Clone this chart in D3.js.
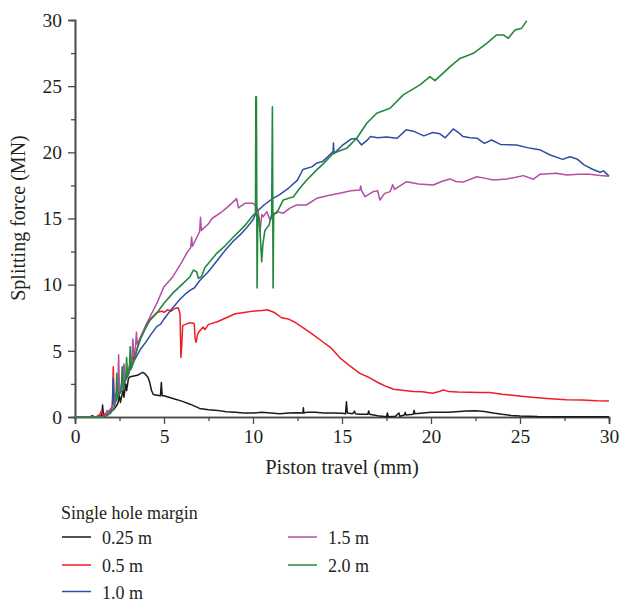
<!DOCTYPE html>
<html>
<head>
<meta charset="utf-8">
<script src="https://cdn.jsdelivr.net/npm/d3@7"></script>
<style>
  html, body { margin: 0; padding: 0; background: #fff; }
  svg { display: block; }
  text { font-family: "Liberation Serif", "DejaVu Serif", serif; fill: #231f20; }
</style>
</head>
<body>
<svg id="chart" width="621" height="603"></svg>
<script>
// ---------- data (x: piston travel mm, y: splitting force MN) ----------
const seriesNames = ["0.25 m", "0.5 m", "1.0 m", "1.5 m", "2.0 m"];
const seriesColors = ["#1a1a1a", "#ee1c25", "#2d4ea3", "#b44ea6", "#23883c"];
const xTicks = [0, 5, 10, 15, 20, 25, 30];
const yTicks = [0, 5, 10, 15, 20, 25, 30];
const xMinorTicks = [2.5, 7.5, 12.5, 17.5, 22.5, 27.5];
const yMinorTicks = [2.5, 7.5, 12.5, 17.5, 22.5, 27.5];

const margin025 = [
  [0,0],[0.8,0],[1.0,0.1],[1.05,0],[1.3,0.05],[1.5,0.1],[1.55,0.9],[1.6,0.1],[1.8,0.15],[2.0,0.4],[2.2,0.6],
  [2.4,1.0],[2.5,1.6],[2.55,1.1],[2.7,2.0],[2.75,1.5],[2.85,2.5],[2.9,2.0],[3.0,2.9],[3.1,3.05],[3.3,3.1],
  [3.5,3.15],[3.7,3.3],[3.8,3.38],[3.9,3.3],[4.0,3.15],[4.1,3.0],[4.2,2.6],[4.3,2.0],[4.4,1.7],[4.6,1.65],
  [4.8,1.6],[4.85,2.6],[4.9,1.6],[5.0,1.6],[5.5,1.4],[6.0,1.2],[6.5,0.95],[7.0,0.65],[7.5,0.55],[8.0,0.5],
  [8.5,0.4],[9.0,0.35],[9.5,0.3],[10,0.3],[10.5,0.35],[11,0.3],[11.5,0.25],[12,0.3],[12.5,0.32],[12.8,0.3],
  [12.83,0.7],[12.86,0.3],[13,0.35],[13.5,0.35],[14,0.3],[14.5,0.3],[15.0,0.28],[15.2,0.25],[15.25,1.15],
  [15.3,0.3],[15.6,0.25],[15.7,0.45],[15.75,0.25],[16.0,0.2],[16.45,0.2],[16.5,0.45],[16.55,0.2],[17,0.1],
  [17.5,0.02],[17.55,0.3],[17.6,0.02],[18,0.05],[18.2,0.3],[18.25,0.05],[18.5,0.15],[18.55,0.35],[18.6,0.15],
  [19,0.2],[19.05,0.5],[19.1,0.25],[20,0.35],[21,0.35],[22,0.45],[22.5,0.47],[23,0.42],[23.5,0.3],[24,0.2],
  [24.5,0.12],[25,0.08],[26,0.03],[27,0.02],[30,0.02]
];

const margin05 = [
  [0,0],[1.2,0],[1.4,0.2],[1.5,0.5],[1.55,0.2],[1.8,0.3],[2.0,0.6],[2.1,0.8],[2.15,3.8],[2.2,1.0],[2.4,1.5],
  [2.5,2.2],[2.55,1.8],[2.7,2.6],[2.75,3.9],[2.8,2.7],[3.0,3.4],[3.2,4.2],[3.25,4.9],[3.3,4.3],[3.5,5.2],
  [3.7,6.0],[4.0,6.9],[4.3,7.5],[4.6,7.9],[4.9,8.0],[5.0,7.9],[5.2,8.1],[5.4,8.0],[5.6,8.2],[5.8,8.25],
  [5.9,7.8],[5.95,4.5],[6.0,5.5],[6.05,6.9],[6.2,7.0],[6.4,7.1],[6.6,7.1],[6.7,7.05],[6.75,5.9],[6.8,5.65],
  [6.9,6.3],[7.0,6.5],[7.2,6.8],[7.3,6.6],[7.5,7.0],[8.0,7.2],[8.5,7.5],[9.0,7.8],[9.5,7.9],[10.0,8.0],
  [10.5,8.05],[10.8,8.1],[11.2,7.9],[11.6,7.5],[12.0,7.4],[12.3,7.2],[12.6,6.95],[13.2,6.4],[13.8,5.8],
  [14.4,5.2],[14.9,4.45],[15.5,3.8],[16.0,3.3],[16.5,3.0],[17.1,2.55],[17.5,2.3],[17.9,2.1],[18.5,2.0],
  [19.0,1.92],[19.5,1.9],[20.1,1.8],[20.5,1.95],[20.7,2.05],[21.0,1.92],[21.5,1.88],[22.7,1.85],[23.3,1.85],
  [24,1.72],[25.2,1.55],[26.5,1.4],[27.6,1.3],[28.5,1.28],[29.3,1.22],[30,1.2]
];

const margin10 = [
  [0,0],[1.5,0],[1.8,0.2],[2.0,0.4],[2.1,0.8],[2.15,2.9],[2.2,1.0],[2.4,1.5],[2.5,2.5],[2.55,1.9],[2.7,2.0],
  [2.8,2.7],[3.0,3.3],[3.3,4.2],[3.65,5.06],[4.0,5.7],[4.3,6.3],[4.6,6.85],[4.8,7.0],[5.0,7.4],[5.4,8.1],
  [5.9,8.9],[6.2,9.3],[6.5,9.6],[6.7,9.75],[7.0,10.3],[7.5,11.0],[8.0,11.85],[8.5,12.7],[8.9,13.3],
  [9.3,13.8],[9.7,14.4],[10.0,14.9],[10.2,15.5],[10.6,16.0],[11.1,16.5],[11.5,16.8],[12.0,17.3],[12.5,17.9],
  [12.8,18.7],[13.3,18.9],[13.6,19.2],[13.9,19.3],[14.3,19.8],[14.5,20.05],[14.52,20.7],[14.55,19.9],
  [15.0,20.5],[15.5,21.0],[15.8,21.05],[16.1,20.56],[16.4,20.9],[16.6,21.2],[17.0,21.1],[17.5,21.15],
  [18.1,21.06],[18.6,21.7],[19.0,21.6],[19.6,21.24],[20.1,21.5],[20.5,21.4],[20.8,21.1],[21.25,21.77],
  [21.6,21.44],[21.8,21.19],[22.2,21.1],[22.6,21.06],[23.0,20.68],[23.4,20.93],[23.9,20.6],[24.8,20.56],
  [25.6,20.3],[26.1,20.2],[26.7,19.8],[27.4,19.47],[27.8,19.67],[28.2,19.5],[28.6,19.05],[29.1,18.7],
  [29.5,18.5],[29.7,18.6],[30,18.2]
];

const margin15 = [
  [0,0],[1.5,0],[1.7,0.1],[1.8,0.5],[1.85,0.2],[2.0,0.6],[2.2,1.0],[2.3,1.8],[2.4,1.5],[2.45,4.7],[2.5,1.9],
  [2.7,2.6],[2.75,4.0],[2.8,2.8],[3.0,3.6],[3.2,4.4],[3.25,5.9],[3.3,4.6],[3.4,5.3],[3.45,6.4],[3.5,5.5],
  [3.7,6.1],[4.0,7.0],[4.3,7.8],[4.6,8.6],[5.0,9.85],[5.5,10.6],[6.0,11.7],[6.27,12.37],[6.5,12.8],
  [6.55,13.6],[6.6,12.9],[7.0,14.0],[7.05,15.1],[7.1,14.1],[7.5,14.6],[7.7,15.0],[8.15,15.4],[8.6,15.9],
  [9.08,16.5],[9.18,15.8],[9.55,16.15],[10.0,16.15],[10.2,15.9],[10.3,15.5],[10.39,14.0],[10.5,15.3],
  [10.58,15.14],[10.77,15.52],[10.96,14.89],[11.33,15.52],[11.7,15.4],[12.1,15.8],[12.45,16.02],[13.0,16.02],
  [13.58,16.53],[14.3,16.75],[15.0,16.95],[15.5,17.1],[16.0,17.15],[16.05,17.45],[16.1,17.1],[16.29,16.65],
  [16.76,17.03],[17.0,17.1],[17.13,16.4],[17.4,16.9],[17.7,17.03],[17.85,17.55],[17.95,17.2],[18.63,17.78],
  [19.3,17.6],[20.13,17.53],[20.6,17.8],[21.07,17.99],[21.4,17.8],[21.8,17.75],[22.57,18.16],[23.0,18.05],
  [23.5,17.91],[24.25,17.99],[24.7,18.1],[25.19,18.24],[25.75,17.97],[26.12,18.34],[27.06,18.42],
  [27.62,18.29],[28.3,18.35],[28.93,18.34],[29.5,18.25],[30,18.2]
];

const margin20 = [
  [0,0],[1.6,0],[1.8,0.1],[2.0,0.3],[2.2,0.7],[2.3,1.3],[2.35,3.3],[2.4,1.5],[2.6,2.0],[2.65,3.8],[2.7,2.2],
  [2.85,2.8],[2.9,4.5],[2.95,3.0],[3.05,3.4],[3.1,5.3],[3.15,3.6],[3.3,4.2],[3.4,4.7],[3.5,5.2],[3.65,5.8],
  [4.0,6.8],[4.2,7.3],[4.59,7.84],[5.0,8.6],[5.52,9.4],[6.0,10.0],[6.46,10.6],[6.65,11.1],[6.83,10.98],
  [6.93,10.48],[7.1,10.6],[7.3,11.3],[7.49,11.6],[7.96,12.37],[8.4,12.9],[8.9,13.6],[9.5,14.4],[10.02,15.27],
  [10.14,15.4],[10.16,24.2],[10.19,24.2],[10.23,9.75],[10.27,15.3],[10.35,15.0],[10.49,11.74],[10.55,13.0],
  [10.67,14.1],[10.9,14.5],[11.05,15.3],[11.09,23.45],[11.13,9.75],[11.16,15.4],[11.33,15.4],[11.7,16.4],
  [12.27,16.65],[12.64,17.3],[13.02,17.91],[13.58,18.67],[14.0,19.2],[14.51,19.93],[15.26,20.3],[15.83,21.06],
  [16.39,22.2],[16.95,22.95],[17.7,23.33],[18.44,24.34],[19.38,25.1],[19.94,25.72],[20.22,25.42],
  [20.88,26.23],[21.07,26.48],[21.63,27.1],[22.38,27.48],[23.13,28.24],[23.69,28.87],[24.06,28.87],
  [24.34,28.62],[24.72,29.25],[25.09,29.37],[25.38,29.95]
];

const seriesData = [margin025, margin05, margin10, margin15, margin20];

// ---------- chart ----------
const svg = d3.select("#chart");
const plot = { left: 75, right: 609, top: 20, bottom: 417 };

const x = d3.scaleLinear().domain([0, 30]).range([plot.left, plot.right]);
const y = d3.scaleLinear().domain([0, 30]).range([plot.bottom, plot.top]);

const axisColor = "#4a4a4a";

// minor ticks
const xMinor = svg.append("g").attr("transform", `translate(0,${plot.bottom})`)
  .call(d3.axisBottom(x).tickValues(xMinorTicks).tickSize(4).tickFormat(""));
const yMinor = svg.append("g").attr("transform", `translate(${plot.left},0)`)
  .call(d3.axisLeft(y).tickValues(yMinorTicks).tickSize(4).tickFormat(""));

// major axes
const xAxis = svg.append("g").attr("transform", `translate(0,${plot.bottom})`)
  .call(d3.axisBottom(x).tickValues(xTicks).tickSize(7).tickPadding(5).tickFormat(d3.format("d")));
const yAxis = svg.append("g").attr("transform", `translate(${plot.left},0)`)
  .call(d3.axisLeft(y).tickValues(yTicks).tickSize(7).tickPadding(6).tickFormat(d3.format("d")));

[xMinor, yMinor, xAxis, yAxis].forEach(g => {
  g.selectAll("path.domain").attr("stroke", axisColor).attr("stroke-width", 1.6);
  g.selectAll(".tick line").attr("stroke", axisColor).attr("stroke-width", 1.3);
  g.selectAll(".tick text").style("font-family", "'Liberation Serif', serif")
    .style("font-size", "19.5px").attr("fill", "#231f20");
});

// lines
const line = d3.line().x(d => x(d[0])).y(d => y(d[1]));
const lineG = svg.append("g");
seriesData.forEach((data, i) => {
  lineG.append("path")
    .datum(data)
    .attr("fill", "none")
    .attr("stroke", seriesColors[i])
    .attr("stroke-width", i === 4 ? 1.6 : 1.5)
    .attr("stroke-linejoin", "round")
    .attr("d", line);
});

// axis titles
svg.append("text")
  .attr("x", 342)
  .attr("y", 474)
  .attr("text-anchor", "middle")
  .style("font-size", "20.5px")
  .text("Piston travel (mm)");

svg.append("text")
  .attr("transform", `translate(25,218) rotate(-90)`)
  .attr("text-anchor", "middle")
  .style("font-size", "20px")
  .text("Splitting force (MN)");

// legend
const legend = svg.append("g");
legend.append("text").attr("x", 61).attr("y", 519).style("font-size", "18px").text("Single hole margin");
const legendPos = [
  { lx: 62, ly: 537, tx: 102 },
  { lx: 62, ly: 565, tx: 102 },
  { lx: 62, ly: 591.5, tx: 102 },
  { lx: 288, ly: 537, tx: 328 },
  { lx: 288, ly: 565, tx: 328 }
];
seriesNames.forEach((name, i) => {
  const p = legendPos[i];
  legend.append("line")
    .attr("x1", p.lx).attr("x2", p.lx + 29)
    .attr("y1", p.ly).attr("y2", p.ly)
    .attr("stroke", seriesColors[i]).attr("stroke-width", 1.5);
  legend.append("text")
    .attr("x", p.tx).attr("y", p.ly + 7)
    .style("font-size", "18px")
    .text(name);
});
</script>
</body>
</html>
